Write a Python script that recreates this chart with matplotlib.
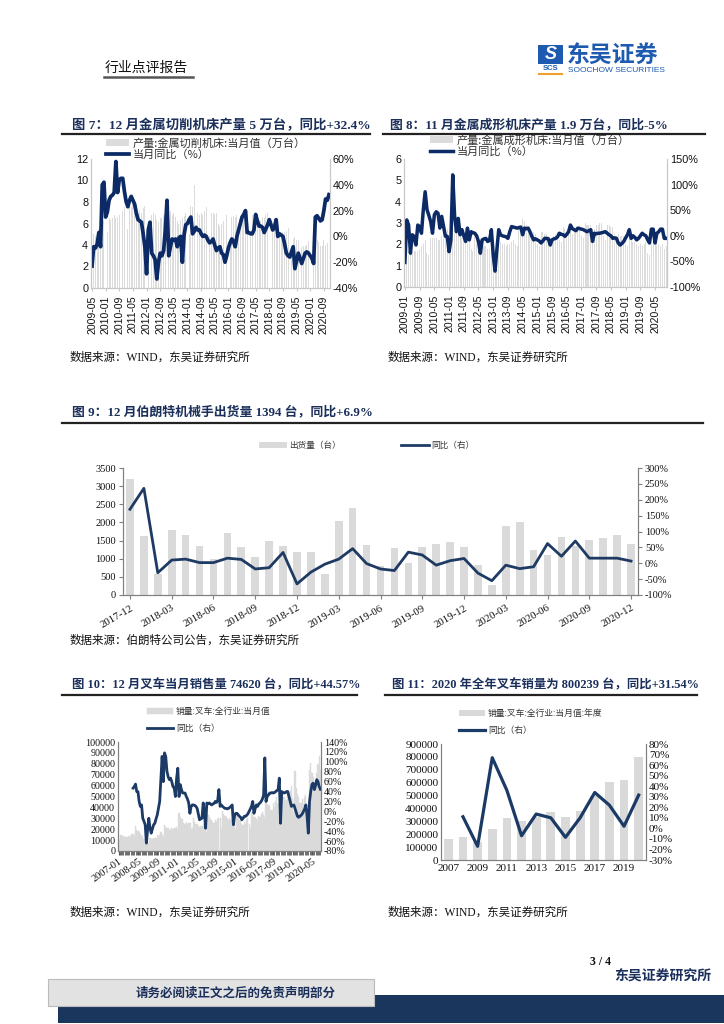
import numpy as np
import pandas as pd
import matplotlib
matplotlib.use("Agg")
import matplotlib.pyplot as plt
from matplotlib.lines import Line2D
from matplotlib.patches import Rectangle
from matplotlib.ticker import FuncFormatter

plt.rcParams["axes.unicode_minus"] = False
CJK = ["Noto Sans CJK SC", "DejaVu Sans"]
SANS = ["Liberation Sans", "DejaVu Sans"]
SERIF = ["Liberation Serif", "DejaVu Serif"]
TITLE = ["Liberation Serif", "Noto Sans CJK SC", "DejaVu Sans"]
plt.rcParams["font.family"] = CJK

nan = np.nan

# =========================================================
# 数据
# =========================================================
# 图7 金属切削机床 2009-05 ~ 2020-12
cut_months = pd.date_range("2009-05", periods=140, freq="MS").strftime("%Y-%m")
cut_output = [4.5, 5.0, 4.8, 5.0, 5.5, 5.8, 6.0, 6.2,
              nan, 5.2, 6.5, 6.3, 6.5, 6.8, 6.5, 6.6, 6.8, 7.0, 7.2, 7.5,
              nan, 5.5, 8.3, 7.5, 7.8, 7.8, 7.2, 7.0, 7.3, 7.0, 7.4, 7.6,
              nan, 5.0, 7.2, 6.8, 7.0, 6.8, 6.3, 6.1, 6.5, 6.5, 6.8, 7.2,
              nan, 4.5, 7.2, 6.8, 7.0, 6.6, 6.2, 6.0, 6.3, 6.5, 6.7, 7.0,
              nan, 5.0, 7.6, 7.5, 9.6, 7.8, 7.0, 6.8, 7.0, 6.8, 7.2, 7.5,
              nan, 4.8, 7.0, 7.0, 6.9, 7.0, 6.0, 5.8, 6.0, 6.2, 6.4, 6.8,
              nan, 4.5, 6.6, 6.7, 6.6, 6.8, 6.0, 6.2, 6.6, 6.5, 6.8, 7.2,
              nan, 4.8, 6.8, 6.7, 6.6, 6.8, 6.2, 6.3, 6.6, 6.5, 6.8, 7.0,
              nan, 4.5, 5.8, 5.8, 5.5, 5.6, 5.0, 5.0, 5.2, 5.2, 5.3, 5.6,
              nan, 3.4, 4.6, 4.7, 4.5, 4.5, 3.8, 3.8, 3.9, 3.9, 4.0, 4.4,
              nan, nan, 3.9, 4.2, 4.5, 4.3, 3.9, 3.9, 4.5, 4.0, 4.2, 5.0]
cut_yoy = [-23, -8, -9, -6, 3, -8, 40, 42,
           15, 19, 28, 31, 32, 34, 58, 34, 44, 45, 45, 35,
           27, 23, 28, 31, 28, 25, 18, 13, 12, 11, 2, -8,
           -29, 5, 11, -13, -15, -18, -33, -20, -13, -15, -11, 5,
           28, -15, -8, -2, -3, -2, -8, -1, 0, -20, 1, 9,
           10, 13, 15, 2, 4, 7, 5, 5, 2, 0, 1, 0,
           -3, -5, -4, -2, -7, -11, -9, -8, -13, -14, -20, -15,
           -9, -5, -2, -4, -8, 0, 5, 10, 15, 17, 20, 3,
           3, 2, 2, 5, 17, 12, 8, 8, 7, 3, 6, 9,
           13, 9, 5, 7, 13, 0, 2, 1, 0, -6, -13, -15,
           -16, -12, -8, -25, -19, -13, -17, -21, -17, -13, -12, -13,
           -15, -17, -21, 15, 16, 14, 12, 13, 20, 29, 28, 32.4]

# 图8 金属成形机床 2009-01 ~ 2020-11
form_months = pd.date_range("2009-01", periods=143, freq="MS").strftime("%Y-%m")
form_output = [1.2, 1.1, 1.5, 1.6, 1.6, 1.7, 1.7, 1.7, 1.8, 1.9, 2.0, 2.2,
               1.6, 1.5, 2.3, 2.3, 2.3, 2.3, 2.2, 2.2, 2.4, 2.3, 2.5, 2.7,
               2.2, 1.8, 2.8, 2.6, 2.6, 2.6, 2.4, 2.3, 2.4, 2.3, 2.4, 2.5,
               1.8, 1.7, 2.4, 2.2, 2.2, 2.2, 2.0, 1.9, 1.9, 1.8, 1.8, 1.9,
               1.5, 1.4, 2.2, 2.1, 2.1, 2.0, 2.0, 1.9, 2.0, 2.0, 2.1, 2.2,
               2.0, 1.9, 2.9, 2.8, 3.2, 3.1, 2.9, 2.8, 2.7, 2.6, 2.6, 2.5,
               2.0, 1.9, 2.6, 2.6, 2.5, 2.5, 2.4, 2.3, 2.3, 2.4, 2.5, 2.6,
               2.2, 2.1, 2.8, 2.7, 2.6, 2.7, 2.6, 2.5, 2.7, 2.7, 2.8, 2.9,
               2.4, 2.3, 3.0, 2.9, 2.9, 2.9, 2.7, 2.7, 2.9, 2.9, 3.0, 3.0,
               2.4, 2.2, 2.9, 2.9, 2.8, 2.8, 2.5, 2.4, 2.5, 2.4, 2.4, 2.4,
               2.0, 1.9, 2.3, 2.2, 2.1, 2.1, 2.0, 1.9, 2.0, 1.9, 2.0, 2.1,
               1.6, 1.5, 2.0, 2.3, 2.2, 2.1, 2.0, 1.9, 2.0, 1.8, 1.9]
form_yoy = [-52, 31, 21, -34, 2, -1, -18, 21, 18, 5, 51, 86,
            51, 40, 28, 5, 41, 47, 44, 15, 38, 18, -1, -1,
            -31, -8, 119, 40, 8, 34, 2, 12, 0, -11, 15, -8,
            8, 6, 5, 0, -11, -34, -8, -6, -5, -11, -9, 12,
            -37, -69, -27, 12, 2, 0, -1, -2, -5, 8, 18, 17,
            16, 15, 16, 17, 2, 15, 14, 15, 8, -1, -8, -6,
            -8, -10, -14, -10, -5, -5, -6, -18, -8, -6, -5, -2,
            5, 3, 2, -1, 3, 8, 21, 14, 12, 10, 15, 14,
            13, 12, 10, 8, 10, 12, -11, 5, 4, 5, 5, 6,
            7, 8, 5, 2, 0, -5, -4, -5, -14, -18, -15, -11,
            -4, 2, 12, -5, 0, -3, -8, -5, 0, 5, 2, 0,
            -8, -14, 13, 13, -14, 5, 8, 13, 13, -5, -5]

# 图9 伯朗特机械手 2017-12 ~ 2020-12
brown_months = pd.date_range("2017-12", periods=37, freq="MS").strftime("%Y-%m")
brown_ship = [3200, 1620, 580, 1790, 1640, 1360, 990, 1710, 1310, 1040, 1490, 1340,
              1180, 1190, 570, 2030, 2390, 1370, 800, 1305, 890, 1315, 1395, 1450,
              1330, 820, 270, 1890, 2000, 1230, 1100, 1590, 1350, 1505, 1580, 1655, 1394]
brown_yoy = [170, 236, -30, 10, 13, 2, 2, 16, 12, -18, -14, 34,
             -65, -28, -3, 13, 46, -1, -18, -23, 35, 26, -6, 8,
             15, -31, -55, -6, -17, -11, 62, 22, 70, 16, 16, 16, 6.9]

# 图10 叉车月度销量 2007-01 ~ 2020-12，同比自 2008-01 起
fork_months = pd.date_range("2007-01", periods=168, freq="MS").strftime("%Y-%m")
fork_sales = [11000, 10000, 14500, 13500, 13500, 13000, 13000, 12500, 13500, 13000, 14000, 16000,
              16000, 14000, 23000, 19000, 18000, 17000, 16000, 14000, 14000, 11000, 9000, 8000,
              8000, 7500, 12000, 11000, 11000, 12000, 12000, 12000, 14500, 14000, 15000, 17000,
              15000, 13000, 24000, 22000, 21000, 21000, 19000, 19000, 21000, 20000, 21000, 21500,
              22000, 20000, 35000, 31000, 29000, 29000, 26000, 25000, 26500, 25000, 26000, 26000,
              20000, 21000, 30000, 27000, 25000, 25000, 23000, 22000, 23000, 23000, 25000, 26000,
              24000, 17000, 33000, 31000, 29000, 28000, 27000, 26000, 28000, 27000, 29000, 30000,
              30000, 20000, 37000, 34000, 32000, 31000, 29000, 28000, 30000, 28000, 30000, 31000,
              27000, 20000, 33000, 30000, 28000, 28000, 25000, 24000, 27000, 25000, 28000, 30000,
              25000, 21000, 36000, 33000, 31000, 31000, 29000, 28000, 32000, 31000, 34000, 36000,
              33000, 31000, 48000, 43000, 41000, 42000, 38000, 38000, 44000, 40000, 46000, 50000,
              43000, 32000, 57000, 53000, 50000, 50000, 46000, 47000, 52000, 48000, 55000, 60000,
              49000, 36000, 73000, 58000, 52000, 50000, 44000, 44000, 48000, 43000, 50000, 51600,
              35000, 22000, 74000, 81000, 72000, 68000, 62000, 63000, 72000, 80000, 87000, 74620]
fork_yoy = [47, 50, 55, 40, 40, 20, 10, 13, -14, -20, -27, -64,
            -37, -14, -34, -44, -35, -27, -24, -15, -7, 6, 20, 64,
            111, 60, 118, 111, 81, 70, 64, 67, 60, 50, 47, 30,
            67, 87, 30, 54, 44, 37, 37, 37, 30, 25, 17, -4,
            10, 13, 13, 12, 10, 6, -5, -17, -15, -14, 17, -2,
            -34, 17, 15, 17, 15, 13, 15, 16, 20, 18, 22, 44,
            10, 13, 10, 8, 6, 6, 5, 6, 8, 10, 13, -27,
            -8, -4, -4, -7, -10, -12, -17, -14, -10, -10, -8, -5,
            0, 5, 10, 20, -4, 5, 13, 10, 15, 17, 20, 25,
            33, 108, 20, 30, 33, 37, 37, 38, 37, 38, 40, 42,
            44, 67, -24, 40, 38, 37, 38, 40, 40, 30, 20, 10,
            12, 13, 6, -2, -10, -12, -10, -8, -5, 0, 5, 13,
            -10, -44, 20, 40, 54, 57, 44, 52, 64, 60, 50, 44.57]

# 图11 叉车年度销量
fork_years = [str(y) for y in range(2007, 2021)]
fork_annual = [163000, 181000, 140000, 243000, 326000, 303000, 330000,
               372000, 336000, 380000, 496000, 608000, 621000, 800239]
fork_annual_yoy = [nan, 11, -17, 67, 36, -7, 13.6, 10, -8.5, 10, 34, 22, 2, 31.54]

# =========================================================
# 画布与工具函数（坐标按像素）
# =========================================================
W, H = 724, 1024
fig = plt.figure(figsize=(W / 100, H / 100), dpi=100)
fig.patch.set_facecolor("white")

NAVY = "#1B2F5B"
pct = FuncFormatter(lambda v, p: f"{v:.0f}%")


def place(x0, y0, x1, y1):
    return fig.add_axes([x0 / W, 1 - y1 / H, (x1 - x0) / W, (y1 - y0) / H])


def ftext(x, y, s, **kw):
    return fig.text(x / W, 1 - y / H, s, **kw)


def fline(x0, x1, y, **kw):
    fig.add_artist(Line2D([x0 / W, x1 / W], [1 - y / H, 1 - y / H],
                          transform=fig.transFigure, **kw))


def frect(x0, y0, x1, y1, **kw):
    fig.add_artist(Rectangle((x0 / W, 1 - y1 / H), (x1 - x0) / W, (y1 - y0) / H,
                             transform=fig.transFigure, **kw))


def title(x, y, s, x0, x1, ry, size=9.3):
    ftext(x, y, s, fontsize=size, fontweight="bold", color=NAVY, va="center", ha="left",
          family=TITLE)
    fline(x0, x1, ry, color="#222222", lw=1.6)


def source(x, y, s):
    ftext(x, y, s, fontsize=8.3, color="#111111", va="center", ha="left", family=TITLE)


def style(ax, ax2, family, size, spine_color, ylen=0):
    for a in (ax, ax2):
        a.spines["top"].set_visible(False)
        for s in ("left", "right", "bottom"):
            a.spines[s].set_color(spine_color)
            a.spines[s].set_linewidth(0.8)
        a.tick_params(labelfontfamily=family, labelsize=size, labelcolor="#111111",
                      color=spine_color)
        a.tick_params(axis="y", length=ylen, pad=2)
    ax.set_zorder(1)
    ax2.set_zorder(2)
    ax.patch.set_visible(False)


def legend(ax, handles, x, y, size, ncol=1, hl=2.3, ls=0.1, cs=2.0):
    ax.legend(handles=handles, loc="upper left", bbox_to_anchor=(x / W, 1 - y / H),
              bbox_transform=fig.transFigure, frameon=False, ncol=ncol,
              prop={"family": CJK, "size": size}, labelcolor="#333333",
              handlelength=hl, handleheight=0.6, handletextpad=0.3,
              labelspacing=ls, columnspacing=cs, borderpad=0, borderaxespad=0)


# =========================================================
# 页眉
# =========================================================
ftext(105, 68, "行业点评报告", fontsize=10, color="#111111", va="center")
fline(104, 193, 77, color="#555555", lw=1.8)
frect(538, 45, 563, 64, color="#1E5BB0", lw=0)
ftext(550.5, 54.5, "S", fontsize=13, fontweight="bold", fontstyle="italic",
      color="white", ha="center", va="center", family=SANS)
ftext(550.5, 69, "SCS", fontsize=5.5, fontweight="bold", color="#1E5BB0",
      ha="center", va="center", family=SANS)
fline(539, 562, 74, color="#F0A030", lw=1.5)
ftext(567, 55, "东吴证券", fontsize=16.5, fontweight="bold", color="#1E5BB0", va="center")
ftext(568, 70, "SOOCHOW SECURITIES", fontsize=6, color="#1E5BB0", va="center", family=SANS)

# =========================================================
# 图7
# =========================================================
title(72, 125, "图 7：12 月金属切削机床产量 5 万台，同比+32.4%", 62, 370, 134, 9.6)
ax = place(91, 159, 330, 288)
x = np.arange(len(cut_output))
b = ax.bar(x, cut_output, width=0.55, color="#DCDCDC", label="产量:金属切削机床:当月值（万台）")
ax.set_xlim(-0.6, len(x) - 0.4)
ax.set_ylim(0, 12)
ax.set_yticks(np.arange(0, 13, 2))
ax.set_xticks(x[::8], cut_months[::8], rotation=90)
ax2 = ax.twinx()
l, = ax2.plot(x, cut_yoy, color="#0B2A66", lw=2.7, label="当月同比（%）")
ax2.set_ylim(-40, 60)
ax2.set_yticks(np.arange(-40, 61, 20))
ax2.yaxis.set_major_formatter(pct)
style(ax, ax2, SANS, 7.8, "#C8C8C8")
ax.tick_params(axis="x", length=2, labelsize=7.6)
legend(ax2, [b, l], 106, 138, 8, hl=2.1, ls=0.0)
source(70, 358, "数据来源：WIND，东吴证券研究所")

# =========================================================
# 图8
# =========================================================
title(390, 125, "图 8：11 月金属成形机床产量 1.9 万台，同比-5%", 383, 705, 134, 9.3)
ax = place(404, 159, 667, 287)
x = np.arange(len(form_output))
b = ax.bar(x, form_output, width=0.55, color="#DCDCDC", label="产量:金属成形机床:当月值（万台）")
ax.set_xlim(-0.5, len(x) - 0.5)
ax.set_ylim(0, 6)
ax.set_yticks(np.arange(0, 7, 1))
ax.set_xticks(x[::8], form_months[::8], rotation=90)
ax2 = ax.twinx()
l, = ax2.plot(x, form_yoy, color="#0B2A66", lw=2.5, label="当月同比（%）")
ax2.set_ylim(-100, 150)
ax2.set_yticks(np.arange(-100, 151, 50))
ax2.yaxis.set_major_formatter(pct)
style(ax, ax2, SANS, 7.8, "#C8C8C8")
ax.tick_params(axis="x", length=2, labelsize=7.6)
legend(ax2, [b, l], 430, 135, 8, hl=2.1, ls=0.0)
source(388, 358, "数据来源：WIND，东吴证券研究所")

# =========================================================
# 图9
# =========================================================
title(72, 412, "图 9：12 月伯朗特机械手出货量 1394 台，同比+6.9%", 62, 703, 423, 9.3)
ax = place(123, 468, 638, 595)
x = np.arange(len(brown_ship))
b = ax.bar(x, brown_ship, width=0.55, color="#DADADA", label="出货量（台）")
ax.set_xlim(-0.5, len(x) - 0.5)
ax.set_ylim(0, 3500)
ax.set_yticks(np.arange(0, 3501, 500))
ax.set_xticks(x[::3], brown_months[::3], rotation=30, ha="right", rotation_mode="anchor")
ax2 = ax.twinx()
l, = ax2.plot(x, brown_yoy, color="#1F3B63", lw=2.0, label="同比（右）")
ax2.set_ylim(-100, 300)
ax2.set_yticks(np.arange(-100, 301, 50))
ax2.yaxis.set_major_formatter(pct)
style(ax, ax2, SERIF, 7.5, "#808080", ylen=3)
ax.tick_params(axis="x", length=3, labelsize=7.8, pad=3)
legend(ax2, [b, l], 259, 441, 6.2, ncol=2, hl=3.2, cs=7.0)
source(70, 641, "数据来源：伯朗特公司公告，东吴证券研究所")

# =========================================================
# 图10
# =========================================================
title(72, 685, "图 10：12 月叉车当月销售量 74620 台，同比+44.57%", 62, 357, 695, 8.9)
ax = place(118, 742, 321, 851)
x = np.arange(len(fork_sales))
b = ax.bar(x, fork_sales, width=1.0, color="#DADADA", edgecolor="#DADADA", lw=0.3,
           label="销量:叉车:全行业:当月值")
ax.set_xlim(-0.5, len(x) - 0.5)
ax.set_ylim(0, 100000)
ax.set_yticks(np.arange(0, 100001, 10000))
ax.set_xticks(x[::16], fork_months[::16], rotation=35, ha="right", rotation_mode="anchor")
ax.set_xticks(x, minor=True)
ax2 = ax.twinx()
l, = ax2.plot(x[12:], fork_yoy, color="#1B3A66", lw=2.0, label="同比（右）")
ax2.set_ylim(-80, 140)
ax2.set_yticks(np.arange(-80, 141, 20))
ax2.yaxis.set_major_formatter(pct)
style(ax, ax2, SERIF, 7.2, "#808080", ylen=0)
ax.tick_params(axis="x", which="both", length=3, color="#555555", labelsize=7.4, pad=1)
legend(ax2, [b, l], 147, 707, 6.3, hl=3.0, ls=0.9)
source(70, 913, "数据来源：WIND，东吴证券研究所")

# =========================================================
# 图11
# =========================================================
title(392, 685, "图 11：2020 年全年叉车销量为 800239 台，同比+31.54%", 385, 697, 695, 8.9)
ax = place(441, 744, 646, 860)
x = np.arange(len(fork_annual))
b = ax.bar(x, fork_annual, width=0.6, color="#D9D9D9", label="销量:叉车:全行业:当月值:年度")
ax.set_xlim(-0.5, len(x) - 0.5)
ax.set_ylim(0, 900000)
ax.set_yticks(np.arange(0, 900001, 100000))
ax.set_xticks(x[::2], fork_years[::2])
ax2 = ax.twinx()
l, = ax2.plot(x, fork_annual_yoy, color="#1B3A66", lw=2.3, label="同比（右）")
ax2.set_ylim(-30, 80)
ax2.set_yticks(np.arange(-30, 81, 10))
ax2.yaxis.set_major_formatter(pct)
style(ax, ax2, SERIF, 8, "#808080", ylen=0)
ax.tick_params(axis="x", length=0, labelsize=8, pad=3)
legend(ax2, [b, l], 459, 709, 6.3, hl=3.0, ls=0.9)
source(388, 913, "数据来源：WIND，东吴证券研究所")

# =========================================================
# 页脚
# =========================================================
ftext(601, 962, "3 / 4", fontsize=8.5, fontweight="bold", color="#111111",
      ha="center", va="center", family=SERIF)
ftext(711, 977, "东吴证券研究所", fontsize=10, fontweight="bold", color=NAVY,
      ha="right", va="center")
frect(58, 995, 724, 1023, color="#1B365D", lw=0)
frect(48, 979, 374, 1006, facecolor="#E2E2E2", edgecolor="#BBBBBB", lw=0.8)
ftext(236, 993, "请务必阅读正文之后的免责声明部分", fontsize=9, fontweight="bold",
      color="#1B2F5B", ha="center", va="center")

fig.savefig("out.png", dpi=100, facecolor="white")
